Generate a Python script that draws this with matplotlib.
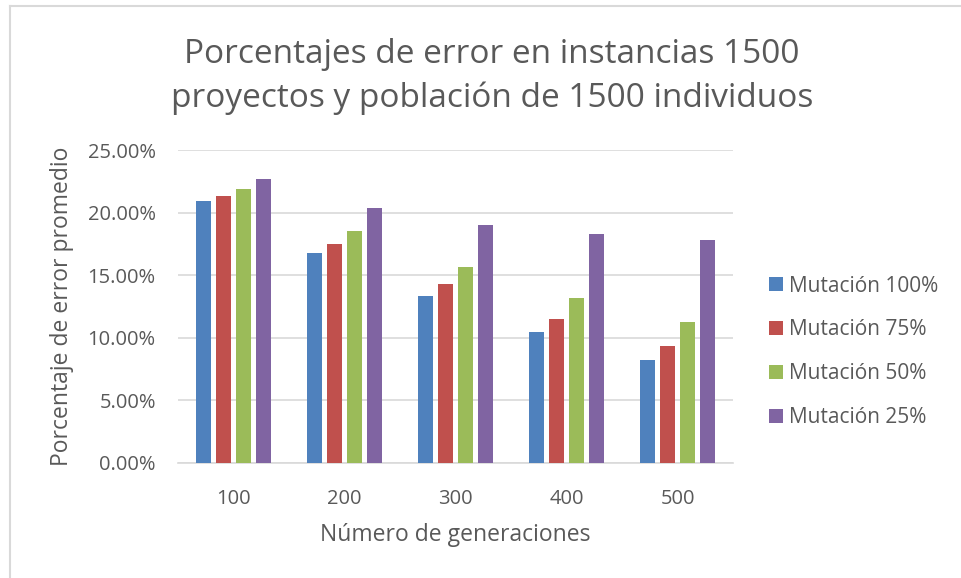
import matplotlib
matplotlib.use('Agg')
import matplotlib.pyplot as plt
import numpy as np
from matplotlib.ticker import FuncFormatter

generaciones = ['100', '200', '300', '400', '500']
series = ['Mutación 100%', 'Mutación 75%', 'Mutación 50%', 'Mutación 25%']
mut_100 = [20.90, 16.74, 13.30, 10.47, 8.26]
mut_75 = [21.32, 17.46, 14.26, 11.51, 9.38]
mut_50 = [21.88, 18.52, 15.62, 13.17, 11.25]
mut_25 = [22.68, 20.36, 18.98, 18.26, 17.83]
colores = ['#4f81bd', '#c0504d', '#9bbb59', '#8064a2']

plt.rcParams['font.family'] = ['Open Sans', 'DejaVu Sans']
texto = '#595959'

fig = plt.figure(figsize=(9.61, 5.78), dpi=100)
ax = fig.add_axes([178 / 961, 1 - 463 / 578, 555 / 961, 313 / 578])

x = np.arange(len(generaciones))
step = 0.18
width = 0.14
for i, (vals, nombre) in enumerate(zip([mut_100, mut_75, mut_50, mut_25], series)):
    ax.bar(x + (i - 1.5) * step, vals, width, color=colores[i], label=nombre, zorder=3)

ax.set_xlim(-0.5, len(generaciones) - 0.5)
ax.set_ylim(0, 25)
ax.set_yticks(np.arange(0, 26, 5))
ax.yaxis.set_major_formatter(FuncFormatter(lambda v, p: '%.2f%%' % v))
ax.set_xticks(x, generaciones)
ax.grid(axis='y', color='#d9d9d9', linewidth=1.2, zorder=0)
for s in ['top', 'right', 'left']:
    ax.spines[s].set_visible(False)
ax.spines['bottom'].set_color('#d9d9d9')
ax.spines['bottom'].set_linewidth(1.2)
ax.tick_params(axis='both', length=0, labelsize=14.5, colors=texto)
ax.tick_params(axis='y', pad=16)
ax.tick_params(axis='x', pad=19)

ax.set_xlabel('Número de generaciones', fontsize=16.5, color=texto, labelpad=10)
ax.set_ylabel('Porcentaje de error promedio', fontsize=16.5, color=texto, labelpad=10)

fig.text(0.512, 0.868, 'Porcentajes de error en instancias 1500\nproyectos y población de 1500 individuos',
         ha='center', va='center', fontsize=24, color=texto, linespacing=1.4)

ax.legend(loc='center left', bbox_to_anchor=(1.065, 0.355), frameon=False, fontsize=15,
          labelcolor=texto, handlelength=0.65, handleheight=0.65, handletextpad=0.3,
          labelspacing=1.1, borderaxespad=0.0, borderpad=0.0)

# borde del grafico
fig.add_artist(plt.Line2D([10 / 961, 10 / 961], [0, 1 - 6 / 578], color='#d9d9d9', lw=1.5))
fig.add_artist(plt.Line2D([10 / 961, 1], [1 - 6 / 578, 1 - 6 / 578], color='#d9d9d9', lw=1.5))

fig.savefig('out.png', dpi=100)
